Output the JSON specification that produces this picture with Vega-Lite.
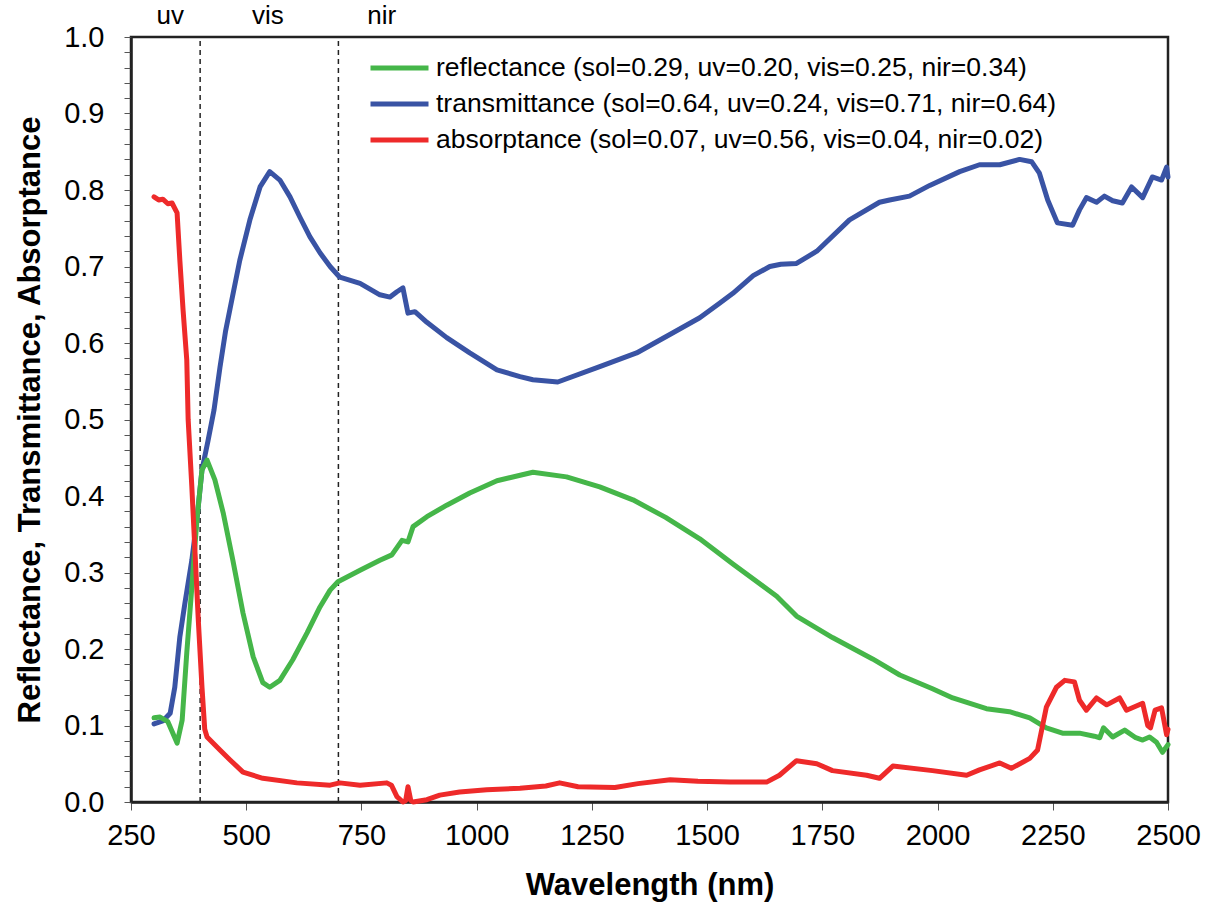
{
  "$schema": "https://vega.github.io/schema/vega-lite/v6.json",
  "width": 1037,
  "height": 765,
  "autosize": "none",
  "padding": {"left": 131, "top": 37, "right": 47, "bottom": 103},
  "background": "white",
  "config": {
    "font": "Liberation Sans",
    "view": {"stroke": "#222222", "strokeWidth": 2.5}
  },
  "datasets": {
    "regions": [
      {"wl": 400},
      {"wl": 700}
    ],
    "bands": [
      {"name": "uv", "wl": 335},
      {"name": "vis", "wl": 547},
      {"name": "nir", "wl": 794}
    ],
    "spectra": [
      {"s": "T", "wl": 300, "v": 0.102},
      {"s": "T", "wl": 319, "v": 0.106},
      {"s": "T", "wl": 335, "v": 0.116},
      {"s": "T", "wl": 345, "v": 0.15},
      {"s": "T", "wl": 356, "v": 0.216},
      {"s": "T", "wl": 367, "v": 0.26},
      {"s": "T", "wl": 382, "v": 0.316},
      {"s": "T", "wl": 393, "v": 0.369},
      {"s": "T", "wl": 404, "v": 0.434},
      {"s": "T", "wl": 417, "v": 0.472},
      {"s": "T", "wl": 430, "v": 0.512},
      {"s": "T", "wl": 443, "v": 0.568},
      {"s": "T", "wl": 455, "v": 0.615},
      {"s": "T", "wl": 465, "v": 0.645},
      {"s": "T", "wl": 486, "v": 0.708},
      {"s": "T", "wl": 508, "v": 0.761},
      {"s": "T", "wl": 530, "v": 0.804},
      {"s": "T", "wl": 551, "v": 0.824},
      {"s": "T", "wl": 573, "v": 0.813},
      {"s": "T", "wl": 595, "v": 0.791},
      {"s": "T", "wl": 616, "v": 0.765},
      {"s": "T", "wl": 638, "v": 0.739},
      {"s": "T", "wl": 660, "v": 0.718},
      {"s": "T", "wl": 682, "v": 0.7},
      {"s": "T", "wl": 703, "v": 0.686},
      {"s": "T", "wl": 747, "v": 0.678},
      {"s": "T", "wl": 790, "v": 0.663},
      {"s": "T", "wl": 812, "v": 0.66},
      {"s": "T", "wl": 827, "v": 0.667},
      {"s": "T", "wl": 840, "v": 0.672},
      {"s": "T", "wl": 851, "v": 0.639},
      {"s": "T", "wl": 866, "v": 0.641},
      {"s": "T", "wl": 892, "v": 0.627},
      {"s": "T", "wl": 935, "v": 0.607},
      {"s": "T", "wl": 985, "v": 0.587},
      {"s": "T", "wl": 1044, "v": 0.565},
      {"s": "T", "wl": 1094, "v": 0.556},
      {"s": "T", "wl": 1122, "v": 0.552},
      {"s": "T", "wl": 1176, "v": 0.549},
      {"s": "T", "wl": 1267, "v": 0.569},
      {"s": "T", "wl": 1347, "v": 0.587},
      {"s": "T", "wl": 1425, "v": 0.613},
      {"s": "T", "wl": 1484, "v": 0.633},
      {"s": "T", "wl": 1527, "v": 0.652},
      {"s": "T", "wl": 1556, "v": 0.665},
      {"s": "T", "wl": 1600, "v": 0.688},
      {"s": "T", "wl": 1636, "v": 0.7},
      {"s": "T", "wl": 1660, "v": 0.703},
      {"s": "T", "wl": 1694, "v": 0.704},
      {"s": "T", "wl": 1738, "v": 0.72},
      {"s": "T", "wl": 1809, "v": 0.761},
      {"s": "T", "wl": 1874, "v": 0.784},
      {"s": "T", "wl": 1896, "v": 0.787},
      {"s": "T", "wl": 1939, "v": 0.792},
      {"s": "T", "wl": 1983, "v": 0.806},
      {"s": "T", "wl": 2048, "v": 0.824},
      {"s": "T", "wl": 2091, "v": 0.833},
      {"s": "T", "wl": 2135, "v": 0.833},
      {"s": "T", "wl": 2178, "v": 0.84},
      {"s": "T", "wl": 2204, "v": 0.837},
      {"s": "T", "wl": 2221, "v": 0.822},
      {"s": "T", "wl": 2239, "v": 0.787},
      {"s": "T", "wl": 2260, "v": 0.757},
      {"s": "T", "wl": 2293, "v": 0.754},
      {"s": "T", "wl": 2308, "v": 0.774},
      {"s": "T", "wl": 2323, "v": 0.79},
      {"s": "T", "wl": 2345, "v": 0.784},
      {"s": "T", "wl": 2362, "v": 0.792},
      {"s": "T", "wl": 2380, "v": 0.786},
      {"s": "T", "wl": 2401, "v": 0.783},
      {"s": "T", "wl": 2421, "v": 0.804},
      {"s": "T", "wl": 2445, "v": 0.79},
      {"s": "T", "wl": 2466, "v": 0.817},
      {"s": "T", "wl": 2486, "v": 0.813},
      {"s": "T", "wl": 2497, "v": 0.83},
      {"s": "T", "wl": 2500, "v": 0.817},

      {"s": "R", "wl": 300, "v": 0.11},
      {"s": "R", "wl": 313, "v": 0.111},
      {"s": "R", "wl": 330, "v": 0.105},
      {"s": "R", "wl": 350, "v": 0.077},
      {"s": "R", "wl": 361, "v": 0.107},
      {"s": "R", "wl": 371, "v": 0.195},
      {"s": "R", "wl": 382, "v": 0.281},
      {"s": "R", "wl": 393, "v": 0.369},
      {"s": "R", "wl": 404, "v": 0.434},
      {"s": "R", "wl": 415, "v": 0.447},
      {"s": "R", "wl": 432, "v": 0.421},
      {"s": "R", "wl": 450, "v": 0.378},
      {"s": "R", "wl": 471, "v": 0.316},
      {"s": "R", "wl": 493, "v": 0.247},
      {"s": "R", "wl": 515, "v": 0.19},
      {"s": "R", "wl": 536, "v": 0.156},
      {"s": "R", "wl": 551, "v": 0.15},
      {"s": "R", "wl": 573, "v": 0.159},
      {"s": "R", "wl": 601, "v": 0.186},
      {"s": "R", "wl": 632, "v": 0.221},
      {"s": "R", "wl": 660, "v": 0.255},
      {"s": "R", "wl": 682, "v": 0.277},
      {"s": "R", "wl": 699, "v": 0.288},
      {"s": "R", "wl": 747, "v": 0.303},
      {"s": "R", "wl": 790, "v": 0.316},
      {"s": "R", "wl": 816, "v": 0.323},
      {"s": "R", "wl": 838, "v": 0.342},
      {"s": "R", "wl": 851, "v": 0.34},
      {"s": "R", "wl": 862, "v": 0.36},
      {"s": "R", "wl": 892, "v": 0.373},
      {"s": "R", "wl": 935, "v": 0.388},
      {"s": "R", "wl": 985, "v": 0.404},
      {"s": "R", "wl": 1044, "v": 0.42},
      {"s": "R", "wl": 1122, "v": 0.431},
      {"s": "R", "wl": 1195, "v": 0.425},
      {"s": "R", "wl": 1267, "v": 0.412},
      {"s": "R", "wl": 1339, "v": 0.395},
      {"s": "R", "wl": 1410, "v": 0.372},
      {"s": "R", "wl": 1484, "v": 0.344},
      {"s": "R", "wl": 1556, "v": 0.311},
      {"s": "R", "wl": 1651, "v": 0.269},
      {"s": "R", "wl": 1694, "v": 0.243},
      {"s": "R", "wl": 1772, "v": 0.215},
      {"s": "R", "wl": 1859, "v": 0.187},
      {"s": "R", "wl": 1918, "v": 0.166},
      {"s": "R", "wl": 1989, "v": 0.148},
      {"s": "R", "wl": 2033, "v": 0.136},
      {"s": "R", "wl": 2106, "v": 0.122},
      {"s": "R", "wl": 2156, "v": 0.118},
      {"s": "R", "wl": 2200, "v": 0.11},
      {"s": "R", "wl": 2236, "v": 0.097},
      {"s": "R", "wl": 2271, "v": 0.09},
      {"s": "R", "wl": 2308, "v": 0.09},
      {"s": "R", "wl": 2340, "v": 0.086},
      {"s": "R", "wl": 2352, "v": 0.084},
      {"s": "R", "wl": 2360, "v": 0.097},
      {"s": "R", "wl": 2380, "v": 0.085},
      {"s": "R", "wl": 2406, "v": 0.094},
      {"s": "R", "wl": 2430, "v": 0.084},
      {"s": "R", "wl": 2445, "v": 0.081},
      {"s": "R", "wl": 2460, "v": 0.085},
      {"s": "R", "wl": 2475, "v": 0.078},
      {"s": "R", "wl": 2488, "v": 0.065},
      {"s": "R", "wl": 2500, "v": 0.075},

      {"s": "A", "wl": 300, "v": 0.791},
      {"s": "A", "wl": 310, "v": 0.787},
      {"s": "A", "wl": 319, "v": 0.788},
      {"s": "A", "wl": 330, "v": 0.782},
      {"s": "A", "wl": 339, "v": 0.783},
      {"s": "A", "wl": 350, "v": 0.77},
      {"s": "A", "wl": 356, "v": 0.708},
      {"s": "A", "wl": 363, "v": 0.643},
      {"s": "A", "wl": 371, "v": 0.578},
      {"s": "A", "wl": 374, "v": 0.5},
      {"s": "A", "wl": 382, "v": 0.412},
      {"s": "A", "wl": 389, "v": 0.325},
      {"s": "A", "wl": 396, "v": 0.238},
      {"s": "A", "wl": 404, "v": 0.15},
      {"s": "A", "wl": 410, "v": 0.095},
      {"s": "A", "wl": 415, "v": 0.085},
      {"s": "A", "wl": 443, "v": 0.068},
      {"s": "A", "wl": 465, "v": 0.055},
      {"s": "A", "wl": 493, "v": 0.039},
      {"s": "A", "wl": 536, "v": 0.031},
      {"s": "A", "wl": 610, "v": 0.025},
      {"s": "A", "wl": 682, "v": 0.022},
      {"s": "A", "wl": 703, "v": 0.025},
      {"s": "A", "wl": 747, "v": 0.022},
      {"s": "A", "wl": 805, "v": 0.025},
      {"s": "A", "wl": 815, "v": 0.022},
      {"s": "A", "wl": 827, "v": 0.007},
      {"s": "A", "wl": 840, "v": 0.0},
      {"s": "A", "wl": 846, "v": 0.002},
      {"s": "A", "wl": 851, "v": 0.02},
      {"s": "A", "wl": 857, "v": 0.002},
      {"s": "A", "wl": 862, "v": 0.0},
      {"s": "A", "wl": 892, "v": 0.003},
      {"s": "A", "wl": 920, "v": 0.009},
      {"s": "A", "wl": 963, "v": 0.013},
      {"s": "A", "wl": 1022, "v": 0.016},
      {"s": "A", "wl": 1094, "v": 0.018},
      {"s": "A", "wl": 1150, "v": 0.021},
      {"s": "A", "wl": 1180, "v": 0.025},
      {"s": "A", "wl": 1220, "v": 0.02},
      {"s": "A", "wl": 1300, "v": 0.019},
      {"s": "A", "wl": 1350, "v": 0.024},
      {"s": "A", "wl": 1420, "v": 0.029},
      {"s": "A", "wl": 1480, "v": 0.027},
      {"s": "A", "wl": 1550, "v": 0.026},
      {"s": "A", "wl": 1629, "v": 0.026},
      {"s": "A", "wl": 1657, "v": 0.035},
      {"s": "A", "wl": 1694, "v": 0.054},
      {"s": "A", "wl": 1738, "v": 0.05},
      {"s": "A", "wl": 1772, "v": 0.041},
      {"s": "A", "wl": 1846, "v": 0.035},
      {"s": "A", "wl": 1874, "v": 0.031},
      {"s": "A", "wl": 1903, "v": 0.047},
      {"s": "A", "wl": 1989, "v": 0.041},
      {"s": "A", "wl": 2063, "v": 0.035},
      {"s": "A", "wl": 2091, "v": 0.042},
      {"s": "A", "wl": 2135, "v": 0.051},
      {"s": "A", "wl": 2160, "v": 0.044},
      {"s": "A", "wl": 2200, "v": 0.057},
      {"s": "A", "wl": 2217, "v": 0.068},
      {"s": "A", "wl": 2236, "v": 0.124},
      {"s": "A", "wl": 2258, "v": 0.15},
      {"s": "A", "wl": 2276, "v": 0.159},
      {"s": "A", "wl": 2297, "v": 0.157},
      {"s": "A", "wl": 2308, "v": 0.133},
      {"s": "A", "wl": 2323, "v": 0.12},
      {"s": "A", "wl": 2345, "v": 0.136},
      {"s": "A", "wl": 2367, "v": 0.127},
      {"s": "A", "wl": 2395, "v": 0.136},
      {"s": "A", "wl": 2410, "v": 0.12},
      {"s": "A", "wl": 2445, "v": 0.129},
      {"s": "A", "wl": 2456, "v": 0.1},
      {"s": "A", "wl": 2462, "v": 0.097},
      {"s": "A", "wl": 2472, "v": 0.12},
      {"s": "A", "wl": 2486, "v": 0.123},
      {"s": "A", "wl": 2497, "v": 0.088},
      {"s": "A", "wl": 2500, "v": 0.095}
    ]
  },
  "layer": [
    {
      "data": {"name": "regions"},
      "mark": {"type": "rule", "color": "#222222", "strokeWidth": 1.5, "strokeDash": [5, 4]},
      "encoding": {
        "x": {"field": "wl", "type": "quantitative"},
        "y": {"datum": 0, "type": "quantitative"},
        "y2": {"datum": 1}
      }
    },
    {
      "data": {"name": "spectra"},
      "mark": {"type": "line", "strokeWidth": 5, "strokeJoin": "round", "strokeCap": "round"},
      "encoding": {
        "x": {
          "field": "wl",
          "type": "quantitative",
          "scale": {"domain": [250, 2500], "nice": false, "zero": false},
          "axis": {
            "values": [250, 500, 750, 1000, 1250, 1500, 1750, 2000, 2250, 2500],
            "format": "d",
            "title": "Wavelength (nm)",
            "titleFontSize": 31,
            "titleFontWeight": "bold",
            "titleColor": "#000000",
            "titlePadding": 20,
            "labelFontSize": 29,
            "labelColor": "#000000",
            "labelPadding": 11,
            "tickSize": 8,
            "tickColor": "#555555",
            "domain": true,
            "domainColor": "#222222",
            "domainWidth": 2.5,
            "grid": false,
            "labelFlush": false,
            "labelOverlap": false
          }
        },
        "y": {
          "field": "v",
          "type": "quantitative",
          "scale": {"domain": [0, 1], "nice": false},
          "axis": {
            "values": [0, 0.02, 0.04, 0.06, 0.08, 0.1, 0.12, 0.14, 0.16, 0.18, 0.2, 0.22, 0.24, 0.26, 0.28, 0.3, 0.32, 0.34, 0.36, 0.38, 0.4, 0.42, 0.44, 0.46, 0.48, 0.5, 0.52, 0.54, 0.56, 0.58, 0.6, 0.62, 0.64, 0.66, 0.68, 0.7, 0.72, 0.74, 0.76, 0.78, 0.8, 0.82, 0.84, 0.86, 0.88, 0.9, 0.92, 0.94, 0.96, 0.98, 1.0],
            "tickCount": 100,
            "labelExpr": "abs(round(datum.value * 10) - datum.value * 10) < 0.001 ? format(datum.value, '.1f') : ''",
            "title": "Reflectance, Transmittance, Absorptance",
            "titleFontSize": 31,
            "titleFontWeight": "bold",
            "titleColor": "#000000",
            "titlePadding": 17,
            "labelFontSize": 29,
            "labelColor": "#000000",
            "labelPadding": 20,
            "tickSize": 7,
            "tickColor": "#555555",
            "domainColor": "#222222",
            "domainWidth": 2.5,
            "grid": false,
            "labelFlush": false,
            "labelOverlap": false
          }
        },
        "color": {
          "field": "s",
          "type": "nominal",
          "scale": {"domain": ["R", "T", "A"], "range": ["#45b649", "#3953a4", "#ee2a2a"]},
          "legend": {
            "orient": "none",
            "legendX": 237,
            "legendY": 18,
            "title": null,
            "symbolType": "stroke",
            "symbolSize": 3364,
            "symbolStrokeWidth": 5,
            "clipHeight": 26,
            "labelFontSize": 26.5,
            "labelColor": "#000000",
            "labelOffset": 5,
            "rowPadding": 9,
            "labelExpr": "datum.value == 'R' ? 'reflectance (sol=0.29, uv=0.20, vis=0.25, nir=0.34)' : datum.value == 'T' ? 'transmittance (sol=0.64, uv=0.24, vis=0.71, nir=0.64)' : 'absorptance (sol=0.07, uv=0.56, vis=0.04, nir=0.02)'",
            "labelLimit": 900
          }
        }
      }
    },
    {
      "data": {"name": "bands"},
      "mark": {"type": "text", "fontSize": 26, "color": "#000000", "baseline": "bottom", "dy": -8},
      "encoding": {
        "x": {"field": "wl", "type": "quantitative"},
        "y": {"datum": 1, "type": "quantitative"},
        "text": {"field": "name"}
      }
    }
  ]
}
